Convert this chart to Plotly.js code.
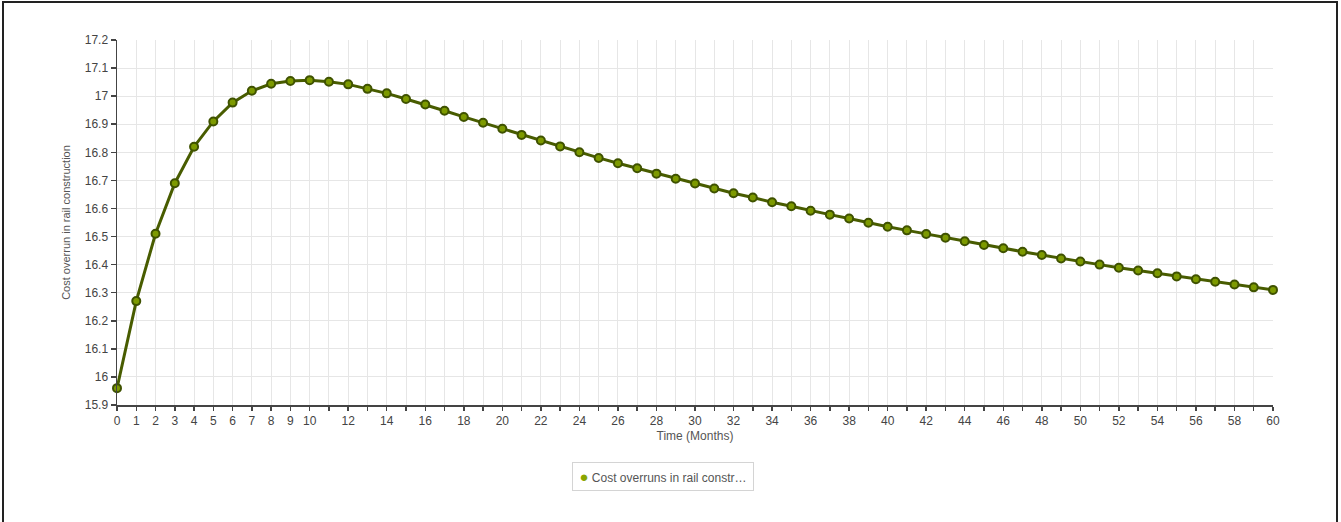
<!DOCTYPE html>
<html>
<head>
<meta charset="utf-8">
<script src="https://cdn.plot.ly/plotly-3.0.1.min.js"></script>
<style>
  html, body { margin: 0; padding: 0; background: #fff; overflow: hidden; }
  #frame { position: absolute; left: 2px; top: 1px; width: 1336px; height: 560px; border: 2px solid #222; box-sizing: border-box; pointer-events: none; z-index: 5; }
  #chart { position: absolute; left: 0; top: 0; width: 1341px; height: 522px; }
</style>
</head>
<body>
<div id="chart"></div>
<div id="frame"></div>
<script>
const months = [];
for (let i = 0; i <= 60; i++) months.push(i);

const costOverrun = [
  15.96, 16.27, 16.51, 16.69, 16.82, 16.91, 16.977, 17.019, 17.044, 17.054,
  17.057, 17.051, 17.042, 17.026, 17.010, 16.990, 16.970, 16.948, 16.926, 16.905,
  16.884, 16.862, 16.842, 16.821, 16.800, 16.780, 16.761, 16.743, 16.724, 16.706,
  16.689, 16.671, 16.654, 16.639, 16.622, 16.608, 16.592, 16.578, 16.564, 16.549,
  16.535, 16.522, 16.509, 16.496, 16.483, 16.470, 16.458, 16.446, 16.434, 16.422,
  16.411, 16.400, 16.389, 16.379, 16.369, 16.358, 16.348, 16.339, 16.329, 16.319,
  16.310
];

const xTickVals = months;
const xTickText = months.map(m => (m <= 10 || m % 2 === 0) ? String(m) : '');
const yTickVals = [15.9, 16, 16.1, 16.2, 16.3, 16.4, 16.5, 16.6, 16.7, 16.8, 16.9, 17, 17.1, 17.2];
const yTickText = ['15.9', '16', '16.1', '16.2', '16.3', '16.4', '16.5', '16.6', '16.7', '16.8', '16.9', '17', '17.1', '17.2'];

const seriesName = 'Cost overruns in rail constr\u2026';
const xTitle = 'Time (Months)';
const yTitle = 'Cost overrun in rail construction';

const traces = [
  {
    x: months, y: costOverrun, type: 'scatter', mode: 'lines+markers', name: seriesName,
    line: { color: '#485c00', width: 3 },
    marker: { color: '#7d9a00', size: 8, line: { color: '#3f5200', width: 2 } },
    showlegend: false, cliponaxis: false, hoverinfo: 'x+y'
  }
];

const layout = {
  width: 1341, height: 522,
  margin: { l: 117, r: 68, t: 40, b: 117 },
  paper_bgcolor: '#ffffff', plot_bgcolor: '#ffffff',
  font: { family: 'Liberation Sans, Arial, sans-serif', color: '#444', size: 12 },
  xaxis: {
    range: [0, 60], tickmode: 'array', tickvals: xTickVals, ticktext: xTickText,
    showgrid: true, gridcolor: '#e6e6e6', gridwidth: 1, zeroline: false,
    showline: true, linecolor: '#444', linewidth: 1.5,
    ticks: 'outside', ticklen: 4, tickcolor: '#444', tickwidth: 1.5,
    tickfont: { size: 12, color: '#444' },
    title: { text: xTitle, font: { size: 12, color: '#555' }, standoff: 4 },
    fixedrange: true
  },
  yaxis: {
    range: [15.9, 17.2], tickmode: 'array', tickvals: yTickVals, ticktext: yTickText,
    showgrid: true, gridcolor: '#e6e6e6', gridwidth: 1, zeroline: false,
    showline: true, linecolor: '#444', linewidth: 1.5,
    ticks: 'outside', ticklen: 5, tickcolor: '#444', tickwidth: 1.5,
    tickfont: { size: 12, color: '#444' },
    title: { text: yTitle, font: { size: 11, color: '#555' }, standoff: 12 },
    fixedrange: true
  },
  showlegend: false,
  annotations: [
    {
      xref: 'paper', yref: 'paper', x: 0.4725, y: -0.155, xanchor: 'center', yanchor: 'top',
      text: '<span style="color:#8aa600;font-size:15px">\u25CF</span> ' + seriesName,
      showarrow: false, font: { size: 12, color: '#555' },
      bordercolor: '#d4d4d4', borderwidth: 1, borderpad: 5, bgcolor: '#fff',
      width: 170, height: 17, align: 'center'
    }
  ]
};

Plotly.newPlot('chart', traces, layout, { displayModeBar: false, staticPlot: true });
</script>
</body>
</html>
